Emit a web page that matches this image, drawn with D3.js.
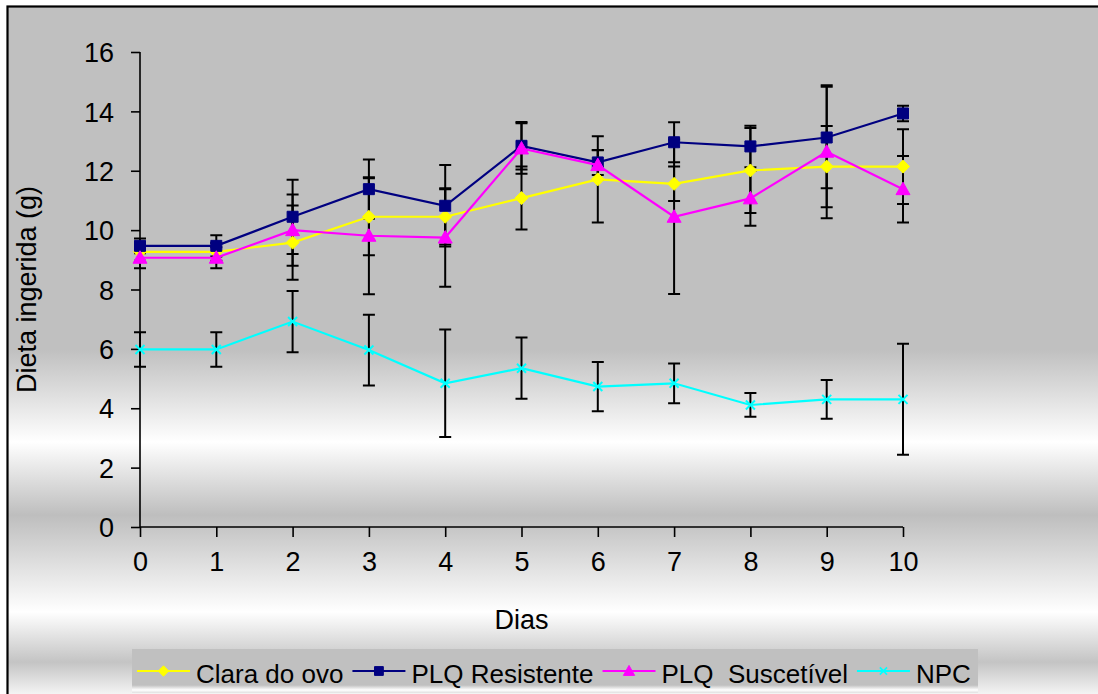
<!DOCTYPE html>
<html>
<head>
<meta charset="utf-8">
<script src="https://cdn.jsdelivr.net/npm/d3@7"></script>
<style>
  html, body { margin: 0; padding: 0; background: #fff; }
  svg { display: block; font-family: "Liberation Sans", Arial, sans-serif; }
</style>
</head>
<body>
<div id="chart"></div>
<script>
// Dieta ingerida (g) por dia, média ± erro, quatro grupos.
const days = [0, 1, 2, 3, 4, 5, 6, 7, 8, 9, 10];
const yTicks = [0, 2, 4, 6, 8, 10, 12, 14, 16];

const claraDoOvo = [9.27, 9.27, 9.58, 10.45, 10.45, 11.08, 11.71, 11.56, 12.01, 12.14, 12.14];
const claraErr = [0.3, 0.3, 1.25, 1.3, 0.93, 1.06, 1.45, 0.58, 1.43, 1.37, 1.26];

const plqResistente = [9.47, 9.47, 10.45, 11.38, 10.82, 12.84, 12.28, 12.96, 12.82, 13.12, 13.93];
const resistErr = [0.25, 0.36, 1.25, 1.0, 1.37, 0.8, 0.42, 0.67, 0.7, 1.71, 0.26];

const plqSuscetivel = [9.07, 9.07, 10.0, 9.81, 9.75, 12.75, 12.19, 10.45, 11.07, 12.64, 11.38];
const suscErr = [0.35, 0.35, 1.2, 1.97, 1.66, 0.85, 0.5, 2.6, 0.92, 2.24, 1.12];

const npc = [5.98, 5.98, 6.92, 5.96, 4.84, 5.35, 4.73, 4.84, 4.11, 4.30, 4.30];
const npcErr = [0.58, 0.58, 1.03, 1.19, 1.81, 1.03, 0.83, 0.67, 0.4, 0.65, 1.87];

const seriesNames = ["Clara do ovo", "PLQ Resistente", "PLQ  Suscetível", "NPC"];

const series = [
  { name: seriesNames[0], values: claraDoOvo, err: claraErr, color: "#FFFF00", marker: "diamond" },
  { name: seriesNames[1], values: plqResistente, err: resistErr, color: "#000080", marker: "square" },
  { name: seriesNames[2], values: plqSuscetivel, err: suscErr, color: "#FF00FF", marker: "triangle" },
  { name: seriesNames[3], values: npc, err: npcErr, color: "#00FFFF", marker: "cross" },
];

const W = 1098, H = 694;
const svg = d3.select("#chart").append("svg").attr("width", W).attr("height", H);

// background gradient (Excel-style banded fill)
const defs = svg.append("defs");
const bg = defs.append("linearGradient").attr("id", "bg")
  .attr("gradientUnits", "userSpaceOnUse")
  .attr("x1", 0).attr("y1", 0).attr("x2", 0).attr("y2", H);
[[0, "#c0c0c0"], [350, "#c0c0c0"], [442, "#ffffff"], [515, "#bebebe"], [612, "#ffffff"],
 [662, "#c4c4c4"], [694, "#f4f4f4"]]
  .forEach(([y, c]) => bg.append("stop").attr("offset", y / H).attr("stop-color", c));

const lg = defs.append("linearGradient").attr("id", "lg")
  .attr("x1", 0).attr("y1", 0).attr("x2", 0).attr("y2", 1);
[[0, "#c0c0c0"], [0.82, "#c0c0c0"], [0.93, "#ffffff"], [1, "#e0e0e0"]]
  .forEach(([o, c]) => lg.append("stop").attr("offset", o).attr("stop-color", c));

svg.append("rect")
  .attr("x", 7.5).attr("y", 6.5).attr("width", W + 20).attr("height", H + 20)
  .attr("fill", "url(#bg)").attr("stroke", "#000").attr("stroke-width", 2.2);

// scales
const x = d3.scaleLinear().domain([0, 10]).range([140, 903]);
const y = d3.scaleLinear().domain([0, 16]).range([527, 52]);

// axes
const yAxis = svg.append("g").attr("transform", `translate(${x(0)},0)`)
  .call(d3.axisLeft(y).tickValues(yTicks).tickSize(9).tickPadding(17).tickFormat(d3.format("d")));
const xAxis = svg.append("g").attr("transform", `translate(0,${y(0)})`)
  .call(d3.axisBottom(x).tickValues(days).tickSize(10).tickPadding(15).tickFormat(d3.format("d")));
[yAxis, xAxis].forEach(g => {
  g.select(".domain").attr("stroke", "#000").attr("stroke-width", 1.6);
  g.selectAll(".tick line").attr("stroke", "#000").attr("stroke-width", 1.6);
  g.selectAll(".tick text").attr("fill", "#000").attr("font-size", 27)
    .attr("font-family", "Liberation Sans, Arial, sans-serif");
});
yAxis.selectAll(".tick text").attr("dy", "0.36em");
xAxis.selectAll(".tick text").attr("dy", "0.72em");
xAxis.select(".domain").attr("d", `M${x(0)},0H${x(10)}`);
yAxis.select(".domain").attr("d", `M0,${y(0)}V${y(16)}`);

// axis titles
svg.append("text").attr("x", (x(0) + x(10)) / 2).attr("y", 629)
  .attr("text-anchor", "middle").attr("font-size", 27).text("Dias");
svg.append("text").attr("transform", `translate(36,${(y(0) + y(16)) / 2}) rotate(-90)`)
  .attr("text-anchor", "middle").attr("font-size", 27).text("Dieta ingerida (g)");

// error bars
const capW = 6;
const errG = svg.append("g").attr("stroke", "#000").attr("stroke-width", 2).attr("fill", "none");
series.forEach(s => {
  s.values.forEach((v, i) => {
    const cx = x(days[i]), hi = y(v + s.err[i]), lo = y(v - s.err[i]);
    errG.append("path")
      .attr("d", `M${cx},${hi}V${lo}M${cx - capW},${hi}H${cx + capW}M${cx - capW},${lo}H${cx + capW}`);
  });
});

// marker shapes
const markerPath = (type, k = 1) => {
  if (type === "diamond") return `M0,${-6.5 * k}L${6.5 * k},0L0,${6.5 * k}L${-6.5 * k},0Z`;
  if (type === "square") return `M${-5.5 * k},${-5.5 * k}H${5.5 * k}V${5.5 * k}H${-5.5 * k}Z`;
  if (type === "triangle") return `M0,${-7 * k}L${7 * k},${5.5 * k}H${-7 * k}Z`;
  return `M${-4.5 * k},${-4.5 * k}L${4.5 * k},${4.5 * k}M${-4.5 * k},${4.5 * k}L${4.5 * k},${-4.5 * k}`;
};

const line = d3.line().x((d, i) => x(days[i])).y(d => y(d));

series.forEach(s => {
  const g = svg.append("g");
  g.append("path").attr("d", line(s.values)).attr("fill", "none")
    .attr("stroke", s.color).attr("stroke-width", 2.2);
  g.selectAll("path.m").data(s.values).join("path").attr("class", "m")
    .attr("transform", (d, i) => `translate(${x(days[i])},${y(d)})`)
    .attr("d", markerPath(s.marker))
    .attr("fill", s.marker === "cross" ? "none" : s.color)
    .attr("stroke", s.color).attr("stroke-width", s.marker === "cross" ? 2 : 1);
});

// legend
const legend = svg.append("g");
legend.append("rect").attr("x", 132).attr("y", 649).attr("width", 846).attr("height", 44)
  .attr("fill", "url(#lg)");
let lx = 137;
const ly = 671;
series.forEach(s => {
  const it = legend.append("g");
  it.append("line").attr("x1", lx).attr("x2", lx + 53).attr("y1", ly).attr("y2", ly)
    .attr("stroke", s.color).attr("stroke-width", 2.2);
  it.append("path").attr("transform", `translate(${lx + 26.5},${ly})`)
    .attr("d", markerPath(s.marker, 0.8))
    .attr("fill", s.marker === "cross" ? "none" : s.color)
    .attr("stroke", s.color).attr("stroke-width", s.marker === "cross" ? 1.6 : 1);
  const t = it.append("text").attr("x", lx + 59).attr("y", 683).attr("font-size", 26)
    .attr("xml:space", "preserve").style("white-space", "pre").text(s.name);
  lx += 59 + t.node().getComputedTextLength() + 9;
});
</script>
</body>
</html>
